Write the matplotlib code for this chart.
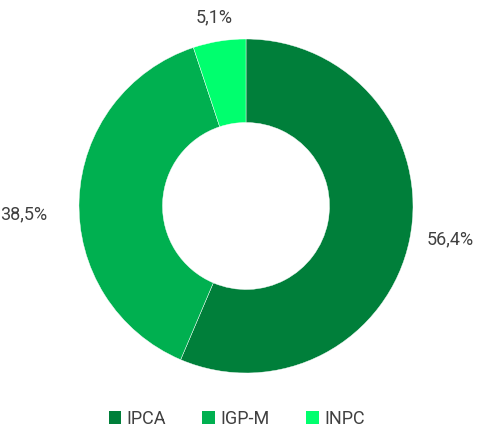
import matplotlib.pyplot as plt
from matplotlib.patches import Patch

# data
labels = ["IPCA", "IGP-M", "INPC"]
shares = [56.4, 38.5, 5.1]
colors = ["#007F3A", "#00B050", "#00FF6E"]
pct_text = ["56,4%", "38,5%", "5,1%"]

plt.rcParams['font.family'] = ['Roboto', 'DejaVu Sans']
txt_color = "#404040"

fig = plt.figure(figsize=(4.81, 4.28), dpi=100)
ax = fig.add_axes([79 / 481, 55 / 428, 334 / 481, 334 / 428])

wedges, texts = ax.pie(shares, labels=pct_text, colors=colors, startangle=90,
                       counterclock=False, labeldistance=1.13,
                       wedgeprops=dict(width=0.5, edgecolor="white", linewidth=0.3),
                       textprops=dict(color=txt_color, fontsize=13))
# nudge label placement a bit like the original
texts[0].set_position((1.08, -0.2))
texts[1].set_position((-1.19, -0.05))
texts[2].set_position((-0.19, 1.13))
texts[2].set_ha('center')

ax.set_xlim(-1, 1)
ax.set_ylim(-1, 1)
ax.set_aspect('equal')

handles = [Patch(facecolor=c, edgecolor='none') for c in colors]
fig.legend(handles, labels, loc='center', bbox_to_anchor=(0.492, 0.022), ncol=3,
           frameon=False, handlelength=0.7, handleheight=0.7,
           handletextpad=0.3, columnspacing=2.0, labelcolor=txt_color,
           prop=dict(size=13))

fig.savefig("out.png", dpi=100)
